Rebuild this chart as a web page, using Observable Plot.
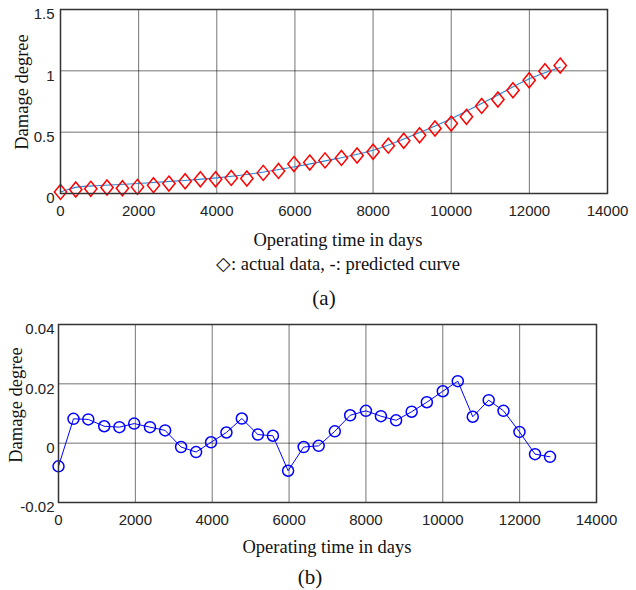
<!DOCTYPE html>
<html>
<head>
<meta charset="utf-8">
<script src="https://cdn.jsdelivr.net/npm/d3@7"></script>
<script src="https://cdn.jsdelivr.net/npm/@observablehq/plot@0.6"></script>
<style>
  body { margin: 0; background: #fff; }
  #wrap { position: relative; width: 636px; height: 590px; overflow: hidden; }
  #wrap svg { position: absolute; left: 0; }
  .t { position: absolute; transform: translate(-50%, -50%); white-space: nowrap;
       font-family: "Liberation Serif", "Times New Roman", serif; color: #111; line-height: 1; }
  .r { transform: translate(-50%, -50%) rotate(-90deg); }
</style>
</head>
<body>
<div id="wrap"></div>
<script>
// ---- data ----
const days = [0, 390, 775, 1190, 1585, 1970, 2380, 2775, 3190, 3580, 3970, 4370, 4770, 5190, 5580, 5975, 6380, 6770, 7190, 7590, 8000, 8390, 8785, 9190, 9585, 10000, 10390, 10780, 11195, 11580, 11995, 12400, 12790];
const actualDamage = [0.013, 0.033, 0.038, 0.049, 0.043, 0.054, 0.068, 0.081, 0.100, 0.116, 0.116, 0.127, 0.122, 0.168, 0.184, 0.240, 0.252, 0.270, 0.290, 0.310, 0.340, 0.390, 0.430, 0.475, 0.530, 0.570, 0.625, 0.714, 0.766, 0.842, 0.923, 0.997, 1.043];
const curveDays = [0, 470, 1000, 2000, 3000, 4000, 5000, 6000, 7000, 8000, 9000, 10000, 11000, 12000, 12790];
const curveDamage = [0.013, 0.054, 0.065, 0.082, 0.103, 0.127, 0.165, 0.218, 0.280, 0.352, 0.472, 0.610, 0.770, 0.935, 1.030];
const residual = [-0.0078, 0.0082, 0.0080, 0.0057, 0.0054, 0.0066, 0.0054, 0.0043, -0.0013, -0.0030, 0.0003, 0.0036, 0.0083, 0.0029, 0.0025, -0.0093, -0.0013, -0.0009, 0.0040, 0.0094, 0.0109, 0.0091, 0.0077, 0.0106, 0.0138, 0.0175, 0.0209, 0.0089, 0.0145, 0.0109, 0.0038, -0.0037, -0.0046];
const xTicks = [0, 2000, 4000, 6000, 8000, 10000, 12000, 14000];
const yTicksA = [0, 0.5, 1, 1.5];
const yTicksB = [-0.02, 0, 0.02, 0.04];

const actualRows = days.map((d, i) => ({day: d, v: actualDamage[i]}));
const curveRows = curveDays.map((d, i) => ({day: d, v: curveDamage[i]}));
const resRows = days.map((d, i) => ({day: d, v: residual[i]}));

const fmt = d => String(+d.toFixed(2)).replace("−", "-");

// tall diamond (MATLAB style)
const tallDiamond = {
  draw(ctx, size) {
    const r = Math.sqrt(size / Math.PI);
    const w = r * 0.82;
    ctx.moveTo(0, -r); ctx.lineTo(w, 0); ctx.lineTo(0, r); ctx.lineTo(-w, 0); ctx.closePath();
  }
};

const common = {
  width: 636,
  style: {fontFamily: "'Liberation Sans', Arial, sans-serif", fontSize: "15px", color: "#222", background: "transparent"}
};

const plotA = Plot.plot({
  ...common,
  height: 230,
  marginLeft: 60, marginRight: 29, marginTop: 9, marginBottom: 37,
  x: {domain: [0, 14000], ticks: xTicks},
  y: {domain: [0, 1.5], ticks: yTicksA},
  marks: [
    Plot.gridX(xTicks, {stroke: "#000", strokeOpacity: 0.55}),
    Plot.gridY(yTicksA, {stroke: "#000", strokeOpacity: 0.55}),
    Plot.axisX(xTicks, {tickSize: 0, tickPadding: 12, label: null, tickFormat: d => String(d)}),
    Plot.axisY(yTicksA, {tickSize: 0, tickPadding: 6, label: null, tickFormat: fmt, dy: 5}),
    Plot.line(curveRows, {x: "day", y: "v", stroke: "#2a86d2", strokeWidth: 1.1, curve: "monotone-x"}),
    Plot.dot(actualRows, {x: "day", y: "v", symbol: tallDiamond, r: 7.5, stroke: "#ff0000", strokeWidth: 1.5, fill: "none"}),
    Plot.frame({stroke: "#333", strokeWidth: 1.5})
  ]
});
plotA.style.top = "0px";

const plotB = Plot.plot({
  ...common,
  height: 230,
  marginLeft: 58, marginRight: 40, marginTop: 24, marginBottom: 28,
  x: {domain: [0, 14000], ticks: xTicks},
  y: {domain: [-0.02, 0.04], ticks: yTicksB},
  marks: [
    Plot.gridX(xTicks, {stroke: "#000", strokeOpacity: 0.55}),
    Plot.gridY(yTicksB, {stroke: "#000", strokeOpacity: 0.55}),
    Plot.axisX(xTicks, {tickSize: 0, tickPadding: 12, label: null, tickFormat: d => String(d)}),
    Plot.axisY(yTicksB, {tickSize: 0, tickPadding: 4, label: null, tickFormat: fmt, dy: 5}),
    Plot.line(resRows, {x: "day", y: "v", stroke: "#0000ff", strokeWidth: 1}),
    Plot.dot(resRows, {x: "day", y: "v", r: 5.5, stroke: "#0000ff", strokeWidth: 1.5, fill: "none"}),
    Plot.frame({stroke: "#333", strokeWidth: 1.5})
  ]
});
plotB.style.top = "300px";

const wrap = document.getElementById("wrap");
wrap.append(plotA, plotB);

function addText(txt, x, y, size, cls) {
  const d = document.createElement("div");
  d.className = "t" + (cls ? " " + cls : "");
  d.textContent = txt;
  d.style.left = x + "px";
  d.style.top = y + "px";
  d.style.fontSize = size + "px";
  wrap.append(d);
}
addText("Damage degree", 22, 92, 18.5, "r");
addText("Operating time in days", 338, 240, 18.5);
addText("\u25C7: actual data, -: predicted curve", 338, 264, 18.5);
addText("(a)", 324, 298, 21);
addText("Damage degree", 16, 405, 18.5, "r");
addText("Operating time in days", 327, 547, 18.5);
addText("(b)", 310, 577, 21);
</script>
</body>
</html>
